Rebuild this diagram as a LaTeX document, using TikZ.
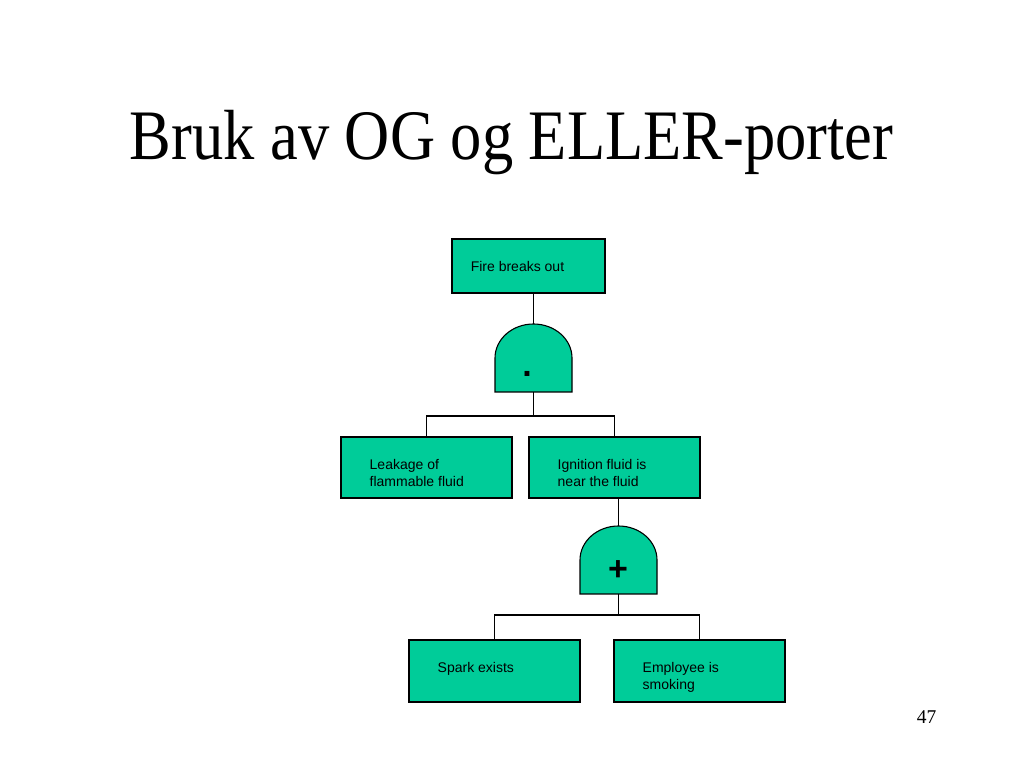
\documentclass[tikz,border=0pt]{standalone}
\usepackage{fontspec}
\setmainfont{Liberation Serif}
\newfontfamily\arialfont{Liberation Sans}
\usepackage{graphicx}
\usepackage{xcolor}
\usetikzlibrary{positioning}
\usetikzlibrary{calc}
\definecolor{ftagreen}{HTML}{00CC99}

\begin{document}
\begin{tikzpicture}[
  x=1pt, y=1pt,
  event/.style={draw, fill=ftagreen, line width=1.1pt, minimum width=171pt, minimum height=61pt, inner sep=0pt, outer sep=0pt},
  boxtext/.style={anchor=north west, align=left, inner sep=0pt, yshift=-22pt, font=\arialfont\fontsize{14}{17.3}\selectfont},
  gate/.style={minimum width=77pt, minimum height=68pt, inner sep=0pt, outer sep=0pt},
  gateline/.style={draw, fill=ftagreen, line width=1.1pt},
  gatesym/.style={inner sep=0pt, font=\arialfont\bfseries\fontsize{34}{40}\selectfont},
  wire/.style={line width=1.1pt}
]
\useasboundingbox[fill=white] (0,0) rectangle (1024,768);

% Title
\node[anchor=base, font=\fontsize{71}{80}\selectfont] (title) at (511.5,608)
{\scalebox{0.88}[1]{Bruk av OG og ELLER-porter}};

% Top event
\node[event, minimum width=153pt, minimum height=54pt,
  label={[boxtext, xshift=18.6pt]north west:Fire breaks out}] (fire) at (528.5,502) {};

% AND gate
\node[gate, below=31pt of fire, xshift=5pt] (andg) {};
\filldraw[gateline] (andg.south west) -- ++(0,34) arc[start angle=180, end angle=0, x radius=38.5pt, y radius=34pt] -- (andg.south east) -- cycle;
\node[gatesym] (andsym) at ([xshift=-6.5pt, yshift=-16pt]andg.center) {.};

% Inputs of the AND gate
\node[event, below=45pt of andg, xshift=-107pt,
  label={[boxtext, xshift=28.5pt]north west:Leakage of\\flammable fluid}] (leak) {};
\node[event, right=17pt of leak,
  label={[boxtext, xshift=28.5pt]north west:Ignition fluid is\\near the fluid}] (ign) {};

% OR gate
\node[gate, below=28pt of ign, xshift=4pt] (org) {};
\filldraw[gateline] (org.south west) -- ++(0,34) arc[start angle=180, end angle=0, x radius=38.5pt, y radius=34pt] -- (org.south east) -- cycle;
\node[gatesym] (orsym) at ([xshift=-0.5pt, yshift=-10.5pt]org.center) {+};

% Inputs of the OR gate
\node[event, minimum height=62pt, below=46pt of org, xshift=-124pt,
  label={[boxtext, xshift=28.5pt]north west:Spark exists}] (spark) {};
\node[event, minimum height=62pt, right=34pt of spark,
  label={[boxtext, xshift=28.5pt]north west:Employee is\\smoking}] (smoke) {};

% Connections
\draw[wire] (fire.south -| andg.north) -- (andg.north);
\coordinate (andbar) at ([yshift=-24pt]andg.south);
\draw[wire] (andg.south) -- (andbar);
\draw[wire] (leak.north) |- (andbar) -| (ign.north);
\draw[wire] (ign.south -| org.north) -- (org.north);
\coordinate (orbar) at ([yshift=-21pt]org.south);
\draw[wire] (org.south) -- (orbar);
\draw[wire] (spark.north) |- (orbar) -| (smoke.north);

% Page number
\node[anchor=base, font=\fontsize{19.5}{22}\selectfont] (pagenum) at (926.5,44.7) {47};

\end{tikzpicture}
\end{document}
